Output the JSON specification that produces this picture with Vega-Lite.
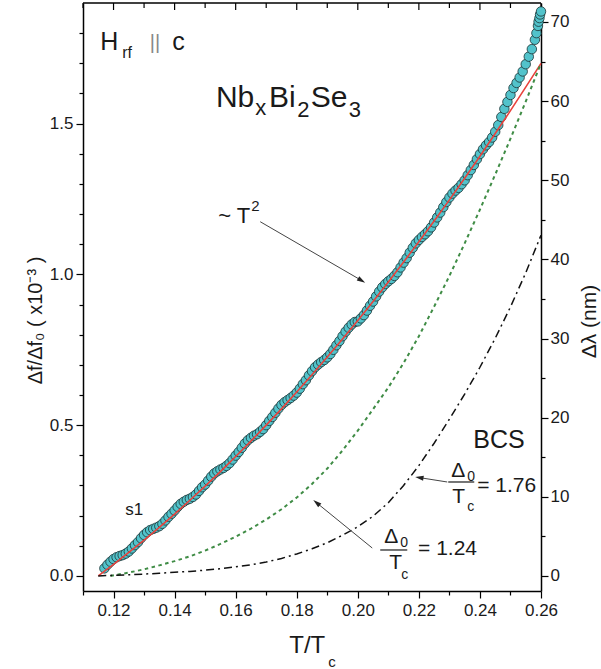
{
"$schema": "https://vega.github.io/schema/vega-lite/v6.json",
"width": 458, "height": 588,
"autosize": {"type": "none"},
"padding": {"left": 83, "top": 3, "right": 60, "bottom": 78},
"background": "white",
"config": {
 "view": {"stroke": null},
 "axis": {"domainColor": "#000", "tickColor": "#000", "labelColor": "#1a1a1a", "titleColor": "#1a1a1a", "labelFont": "Liberation Sans", "titleFont": "Liberation Sans", "labelFontSize": 17, "titleFontWeight": "normal", "grid": false, "domainWidth": 1.5, "tickWidth": 1.2, "labelOverlap": false, "labelFlush": false, "labelBound": false}
},
"datasets": {
 "pts": [
  {"T":0.117,"v":0.025},{"T":0.118,"v":0.037},{"T":0.119,"v":0.047},{"T":0.120,"v":0.056},{"T":0.121,"v":0.062},{"T":0.122,"v":0.066},{"T":0.123,"v":0.069},{"T":0.124,"v":0.074},{"T":0.125,"v":0.081},{"T":0.126,"v":0.091},
  {"T":0.127,"v":0.102},{"T":0.128,"v":0.112},{"T":0.129,"v":0.125},{"T":0.130,"v":0.136},{"T":0.131,"v":0.145},{"T":0.132,"v":0.152},{"T":0.133,"v":0.156},{"T":0.134,"v":0.160},{"T":0.135,"v":0.165},{"T":0.136,"v":0.173},
  {"T":0.137,"v":0.184},{"T":0.138,"v":0.196},{"T":0.139,"v":0.206},{"T":0.140,"v":0.217},{"T":0.141,"v":0.229},{"T":0.142,"v":0.239},{"T":0.143,"v":0.246},{"T":0.144,"v":0.252},{"T":0.145,"v":0.256},{"T":0.146,"v":0.262},
  {"T":0.147,"v":0.270},{"T":0.148,"v":0.282},{"T":0.149,"v":0.294},{"T":0.150,"v":0.303},{"T":0.151,"v":0.316},{"T":0.152,"v":0.329},{"T":0.153,"v":0.340},{"T":0.154,"v":0.347},{"T":0.155,"v":0.353},{"T":0.156,"v":0.358},
  {"T":0.157,"v":0.365},{"T":0.158,"v":0.374},{"T":0.159,"v":0.386},{"T":0.160,"v":0.399},{"T":0.161,"v":0.411},{"T":0.162,"v":0.425},{"T":0.163,"v":0.439},{"T":0.164,"v":0.450},{"T":0.165,"v":0.458},{"T":0.166,"v":0.465},
  {"T":0.167,"v":0.470},{"T":0.168,"v":0.478},{"T":0.169,"v":0.487},{"T":0.170,"v":0.500},{"T":0.171,"v":0.514},{"T":0.172,"v":0.527},{"T":0.173,"v":0.541},{"T":0.174,"v":0.555},{"T":0.175,"v":0.567},{"T":0.176,"v":0.576},
  {"T":0.177,"v":0.583},{"T":0.178,"v":0.590},{"T":0.179,"v":0.598},{"T":0.180,"v":0.608},{"T":0.181,"v":0.621},{"T":0.182,"v":0.636},{"T":0.183,"v":0.649},{"T":0.184,"v":0.665},{"T":0.185,"v":0.679},{"T":0.186,"v":0.692},
  {"T":0.187,"v":0.701},{"T":0.188,"v":0.709},{"T":0.189,"v":0.716},{"T":0.190,"v":0.725},{"T":0.191,"v":0.736},{"T":0.192,"v":0.750},{"T":0.193,"v":0.765},{"T":0.194,"v":0.779},{"T":0.195,"v":0.795},{"T":0.196,"v":0.810},
  {"T":0.197,"v":0.823},{"T":0.198,"v":0.834},{"T":0.199,"v":0.842},{"T":0.200,"v":0.844},{"T":0.201,"v":0.854},{"T":0.202,"v":0.865},{"T":0.203,"v":0.880},{"T":0.204,"v":0.896},{"T":0.205,"v":0.910},{"T":0.206,"v":0.927},
  {"T":0.207,"v":0.943},{"T":0.208,"v":0.957},{"T":0.209,"v":0.968},{"T":0.210,"v":0.977},{"T":0.211,"v":0.985},{"T":0.212,"v":0.995},{"T":0.213,"v":1.007},{"T":0.214,"v":1.023},{"T":0.215,"v":1.039},{"T":0.216,"v":1.054},
  {"T":0.217,"v":1.072},{"T":0.218,"v":1.088},{"T":0.219,"v":1.103},{"T":0.220,"v":1.114},{"T":0.221,"v":1.124},{"T":0.222,"v":1.133},{"T":0.223,"v":1.143},{"T":0.224,"v":1.156},{"T":0.225,"v":1.172},{"T":0.226,"v":1.189},
  {"T":0.227,"v":1.205},{"T":0.228,"v":1.223},{"T":0.229,"v":1.240},{"T":0.230,"v":1.255},{"T":0.231,"v":1.268},{"T":0.232,"v":1.278},{"T":0.233,"v":1.287},{"T":0.234,"v":1.299},{"T":0.235,"v":1.312},{"T":0.236,"v":1.329},
  {"T":0.237,"v":1.346},{"T":0.238,"v":1.363},{"T":0.239,"v":1.382},{"T":0.240,"v":1.399},{"T":0.241,"v":1.415},{"T":0.242,"v":1.428},{"T":0.243,"v":1.439},{"T":0.244,"v":1.454},{"T":0.245,"v":1.473},{"T":0.246,"v":1.495},
  {"T":0.247,"v":1.522},{"T":0.248,"v":1.549},{"T":0.249,"v":1.572},{"T":0.250,"v":1.595},{"T":0.251,"v":1.618},{"T":0.252,"v":1.635},{"T":0.253,"v":1.653},{"T":0.254,"v":1.673},{"T":0.255,"v":1.697},{"T":0.256,"v":1.722},
  {"T":0.257,"v":1.747},{"T":0.258,"v":1.778},{"T":0.2585,"v":1.800},{"T":0.259,"v":1.824},{"T":0.2592,"v":1.838},{"T":0.2595,"v":1.850},{"T":0.2597,"v":1.862},{"T":0.260,"v":1.872}
 ],
 "curves": [
  {"c":"fit","T":0.115,"v":0.0},{"c":"fit","T":0.12,"v":0.038},{"c":"fit","T":0.125,"v":0.078},{"c":"fit","T":0.13,"v":0.119},{"c":"fit","T":0.135,"v":0.161},{"c":"fit","T":0.14,"v":0.205},{"c":"fit","T":0.145,"v":0.251},{"c":"fit","T":0.15,"v":0.298},{"c":"fit","T":0.155,"v":0.346},{"c":"fit","T":0.16,"v":0.396},
  {"c":"fit","T":0.165,"v":0.447},{"c":"fit","T":0.17,"v":0.500},{"c":"fit","T":0.175,"v":0.554},{"c":"fit","T":0.18,"v":0.610},{"c":"fit","T":0.185,"v":0.667},{"c":"fit","T":0.19,"v":0.726},{"c":"fit","T":0.195,"v":0.786},{"c":"fit","T":0.2,"v":0.847},{"c":"fit","T":0.205,"v":0.910},{"c":"fit","T":0.21,"v":0.975},
  {"c":"fit","T":0.215,"v":1.041},{"c":"fit","T":0.22,"v":1.108},{"c":"fit","T":0.225,"v":1.177},{"c":"fit","T":0.23,"v":1.247},{"c":"fit","T":0.235,"v":1.319},{"c":"fit","T":0.24,"v":1.392},{"c":"fit","T":0.245,"v":1.467},{"c":"fit","T":0.25,"v":1.543},{"c":"fit","T":0.255,"v":1.621},{"c":"fit","T":0.26,"v":1.700},
  {"c":"g","T":0.119,"v":0.0},{"c":"g","T":0.125,"v":0.011},{"c":"g","T":0.13,"v":0.022},{"c":"g","T":0.135,"v":0.035},{"c":"g","T":0.14,"v":0.049},{"c":"g","T":0.145,"v":0.065},{"c":"g","T":0.15,"v":0.084},{"c":"g","T":0.155,"v":0.106},{"c":"g","T":0.16,"v":0.130},{"c":"g","T":0.165,"v":0.157},
  {"c":"g","T":0.17,"v":0.187},{"c":"g","T":0.175,"v":0.221},{"c":"g","T":0.18,"v":0.260},{"c":"g","T":0.185,"v":0.305},{"c":"g","T":0.19,"v":0.356},{"c":"g","T":0.195,"v":0.416},{"c":"g","T":0.2,"v":0.482},{"c":"g","T":0.205,"v":0.553},{"c":"g","T":0.21,"v":0.625},{"c":"g","T":0.215,"v":0.706},
  {"c":"g","T":0.22,"v":0.795},{"c":"g","T":0.225,"v":0.893},{"c":"g","T":0.23,"v":0.995},{"c":"g","T":0.235,"v":1.103},{"c":"g","T":0.24,"v":1.215},{"c":"g","T":0.245,"v":1.331},{"c":"g","T":0.25,"v":1.450},{"c":"g","T":0.255,"v":1.573},{"c":"g","T":0.26,"v":1.700},
  {"c":"b","T":0.115,"v":0.0},{"c":"b","T":0.12,"v":0.002},{"c":"b","T":0.125,"v":0.004},{"c":"b","T":0.13,"v":0.006},{"c":"b","T":0.135,"v":0.009},{"c":"b","T":0.14,"v":0.012},{"c":"b","T":0.145,"v":0.015},{"c":"b","T":0.15,"v":0.019},{"c":"b","T":0.155,"v":0.024},{"c":"b","T":0.16,"v":0.030},
  {"c":"b","T":0.165,"v":0.037},{"c":"b","T":0.17,"v":0.046},{"c":"b","T":0.175,"v":0.058},{"c":"b","T":0.18,"v":0.073},{"c":"b","T":0.185,"v":0.090},{"c":"b","T":0.19,"v":0.110},{"c":"b","T":0.195,"v":0.135},{"c":"b","T":0.2,"v":0.163},{"c":"b","T":0.205,"v":0.198},{"c":"b","T":0.21,"v":0.243},
  {"c":"b","T":0.215,"v":0.300},{"c":"b","T":0.22,"v":0.366},{"c":"b","T":0.225,"v":0.440},{"c":"b","T":0.23,"v":0.520},{"c":"b","T":0.235,"v":0.603},{"c":"b","T":0.24,"v":0.692},{"c":"b","T":0.245,"v":0.788},{"c":"b","T":0.25,"v":0.892},{"c":"b","T":0.255,"v":1.005},{"c":"b","T":0.26,"v":1.130}
 ],
 "arrows": [
  {"id":"a1","T":0.16804,"v":1.1747,"T2":0.20125,"v2":0.9797},
  {"id":"a2","T":0.22929,"v":0.3115,"T2":0.22015,"v2":0.3261},
  {"id":"a3","T":0.20473,"v":0.0926,"T2":0.18648,"v2":0.2428}
 ],
 "bars": [
  {"T":0.22962,"T2":0.23814,"v":0.3115},
  {"T":0.20735,"T2":0.21620,"v":0.0860}
 ],
 "frame": [
  {"T":0.11,"T2":0.26,"v":1.9}
 ],
 "topticks": [
  {"T":0.11,"v":1.9,"v2":1.8834},{"T":0.12,"v":1.9,"v2":1.8768},{"T":0.13,"v":1.9,"v2":1.8834},{"T":0.14,"v":1.9,"v2":1.8768},
  {"T":0.15,"v":1.9,"v2":1.8834},{"T":0.16,"v":1.9,"v2":1.8768},{"T":0.17,"v":1.9,"v2":1.8834},{"T":0.18,"v":1.9,"v2":1.8768},
  {"T":0.19,"v":1.9,"v2":1.8834},{"T":0.20,"v":1.9,"v2":1.8768},{"T":0.21,"v":1.9,"v2":1.8834},{"T":0.22,"v":1.9,"v2":1.8768},
  {"T":0.23,"v":1.9,"v2":1.8834},{"T":0.24,"v":1.9,"v2":1.8768},{"T":0.25,"v":1.9,"v2":1.8834},{"T":0.26,"v":1.9,"v2":1.8768}
 ],
 "texts": [
  {"g":"s30","label":"Nb","T":0.15353,"v":1.5551},
  {"g":"s30","label":"Bi","T":0.17092,"v":1.5551},
  {"g":"s30","label":"Se","T":0.18461,"v":1.5551},
  {"g":"s22","label":"x","T":0.16640,"v":1.5286},
  {"g":"s22","label":"2","T":0.18016,"v":1.5219},
  {"g":"s22","label":"3","T":0.19703,"v":1.5219},
  {"g":"s22","label":"~ T","T":0.15428,"v":1.1704},
  {"g":"s25","label":"H","T":0.11563,"v":1.7441},
  {"g":"s25","label":"c","T":0.13922,"v":1.7441},
  {"g":"s25","label":"BCS","T":0.23781,"v":0.4242},
  {"g":"s16","label":"rf","T":0.12284,"v":1.7176},
  {"g":"par","label":"||","T":0.13185,"v":1.7475},
  {"g":"s15","label":"2","T":0.16509,"v":1.2102},
  {"g":"s15","label":"c","T":0.19031,"v":-0.302},
  {"g":"s17","label":"s1","T":0.12382,"v":0.2020},
  {"g":"s21","label":"Δ","T":0.23060,"v":0.3281},
  {"g":"s21","label":"T","T":0.23093,"v":0.2418},
  {"g":"s21","label":"= 1.76","T":0.23912,"v":0.2783},
  {"g":"s21","label":"Δ","T":0.20866,"v":0.1092},
  {"g":"s21","label":"T","T":0.21030,"v":0.0230},
  {"g":"s21","label":"= 1.24","T":0.21973,"v":0.0694},
  {"g":"s14","label":"0","T":0.23584,"v":0.3148},
  {"g":"s14","label":"c","T":0.23584,"v":0.2153},
  {"g":"s14","label":"0","T":0.21390,"v":0.0959},
  {"g":"s14","label":"c","T":0.21420,"v":-0.0102},
  {"g":"s24","label":"T/T","T":0.17754,"v":-0.2556}
 ]
},
"layer": [
 {
  "encoding": {
   "x": {"field": "T", "type": "quantitative",
    "scale": {"domain": [0.11, 0.26], "nice": false, "zero": false},
    "axis": {"orient": "bottom", "title": null,
     "values": [0.11,0.12,0.13,0.14,0.15,0.16,0.17,0.18,0.19,0.2,0.21,0.22,0.23,0.24,0.25,0.26],
     "labelExpr": "abs(datum.value*50 - round(datum.value*50)) < 0.001 ? format(datum.value, '.2f') : ''",
     "tickSize": {"condition": {"test": "abs(datum.value*50 - round(datum.value*50)) < 0.001", "value": 7}, "value": 4},
     "labelPadding": 4}},
   "y": {"field": "v", "type": "quantitative",
    "scale": {"domain": [-0.05, 1.9], "nice": false, "zero": false},
    "axis": {"orient": "left", "title": "Δf/Δf₀ ( x10⁻³ )",
     "values": [0,0.1,0.2,0.3,0.4,0.5,0.6,0.7,0.8,0.9,1.0,1.1,1.2,1.3,1.4,1.5,1.6,1.7,1.8],
     "labelExpr": "abs(datum.value*2 - round(datum.value*2)) < 0.001 ? format(datum.value, '.1f') : ''",
     "tickSize": {"condition": {"test": "abs(datum.value*2 - round(datum.value*2)) < 0.001", "value": 7}, "value": 4},
     "labelPadding": 3,
     "titleFontSize": 20, "titleAngle": 270, "titleX": -42, "titleY": 317, "titleBaseline": "alphabetic", "titleAlign": "center"}}
  },
  "layer": [
   {"data": {"name": "frame"}, "mark": {"type": "rule", "color": "#000000", "strokeWidth": 1.5}, "encoding": {"x2": {"field": "T2"}}},
   {"data": {"name": "topticks"}, "mark": {"type": "rule", "color": "#000000", "strokeWidth": 1.2}, "encoding": {"y2": {"field": "v2"}}},
   {"data": {"name": "pts"}, "mark": {"type": "circle", "size": 90, "fill": "#52c3cb", "fillOpacity": 1, "opacity": 1, "stroke": "#1b3234", "strokeWidth": 0.8}},
   {"data": {"name": "curves"}, "transform": [{"filter": "datum.c === 'fit'"}], "mark": {"type": "line", "color": "#e8423c", "strokeWidth": 1.6}},
   {"data": {"name": "curves"}, "transform": [{"filter": "datum.c === 'g'"}], "mark": {"type": "line", "color": "#3f8c45", "strokeWidth": 2, "strokeDash": [3.5, 3.5]}},
   {"data": {"name": "curves"}, "transform": [{"filter": "datum.c === 'b'"}], "mark": {"type": "line", "color": "#111111", "strokeWidth": 1.5, "strokeDash": [8, 4, 2, 4]}},
   {"data": {"name": "arrows"}, "mark": {"type": "rule", "color": "#444444", "strokeWidth": 1}, "encoding": {"x2": {"field": "T2"}, "y2": {"field": "v2"}}},
   {"data": {"name": "arrows"}, "transform": [{"filter": "datum.id === 'a1'"}], "mark": {"type": "point", "shape": "M0,-1L0.6,1L-0.6,1Z", "filled": true, "color": "#222222", "opacity": 1, "size": 70, "angle": 120.8}, "encoding": {"x": {"field": "T2", "type": "quantitative"}, "y": {"field": "v2", "type": "quantitative"}}},
   {"data": {"name": "arrows"}, "transform": [{"filter": "datum.id === 'a2'"}], "mark": {"type": "point", "shape": "M0,-1L0.6,1L-0.6,1Z", "filled": true, "color": "#222222", "opacity": 1, "size": 70, "angle": 278.9}, "encoding": {"x": {"field": "T2", "type": "quantitative"}, "y": {"field": "v2", "type": "quantitative"}}},
   {"data": {"name": "arrows"}, "transform": [{"filter": "datum.id === 'a3'"}], "mark": {"type": "point", "shape": "M0,-1L0.6,1L-0.6,1Z", "filled": true, "color": "#222222", "opacity": 1, "size": 70, "angle": 309.1}, "encoding": {"x": {"field": "T2", "type": "quantitative"}, "y": {"field": "v2", "type": "quantitative"}}},
   {"data": {"name": "bars"}, "mark": {"type": "rule", "color": "#1a1a1a", "strokeWidth": 1.2}, "encoding": {"x2": {"field": "T2"}}},
   {"data": {"name": "texts"}, "transform": [{"filter": "datum.g === 's30'"}], "mark": {"type": "text", "align": "left", "baseline": "alphabetic", "font": "Liberation Sans", "fontSize": 30, "color": "#1a1a1a"}, "encoding": {"text": {"field": "label"}}},
   {"data": {"name": "texts"}, "transform": [{"filter": "datum.g === 's25'"}], "mark": {"type": "text", "align": "left", "baseline": "alphabetic", "font": "Liberation Sans", "fontSize": 25, "color": "#1a1a1a"}, "encoding": {"text": {"field": "label"}}},
   {"data": {"name": "texts"}, "transform": [{"filter": "datum.g === 's24'"}], "mark": {"type": "text", "align": "left", "baseline": "alphabetic", "font": "Liberation Sans", "fontSize": 24, "color": "#1a1a1a"}, "encoding": {"text": {"field": "label"}}},
   {"data": {"name": "texts"}, "transform": [{"filter": "datum.g === 's22'"}], "mark": {"type": "text", "align": "left", "baseline": "alphabetic", "font": "Liberation Sans", "fontSize": 22, "color": "#1a1a1a"}, "encoding": {"text": {"field": "label"}}},
   {"data": {"name": "texts"}, "transform": [{"filter": "datum.g === 's21'"}], "mark": {"type": "text", "align": "left", "baseline": "alphabetic", "font": "Liberation Sans", "fontSize": 21, "color": "#1a1a1a"}, "encoding": {"text": {"field": "label"}}},
   {"data": {"name": "texts"}, "transform": [{"filter": "datum.g === 's17'"}], "mark": {"type": "text", "align": "left", "baseline": "alphabetic", "font": "Liberation Sans", "fontSize": 17, "color": "#1a1a1a"}, "encoding": {"text": {"field": "label"}}},
   {"data": {"name": "texts"}, "transform": [{"filter": "datum.g === 's16'"}], "mark": {"type": "text", "align": "left", "baseline": "alphabetic", "font": "Liberation Sans", "fontSize": 16, "color": "#1a1a1a"}, "encoding": {"text": {"field": "label"}}},
   {"data": {"name": "texts"}, "transform": [{"filter": "datum.g === 's15'"}], "mark": {"type": "text", "align": "left", "baseline": "alphabetic", "font": "Liberation Sans", "fontSize": 15, "color": "#1a1a1a"}, "encoding": {"text": {"field": "label"}}},
   {"data": {"name": "texts"}, "transform": [{"filter": "datum.g === 's14'"}], "mark": {"type": "text", "align": "left", "baseline": "alphabetic", "font": "Liberation Sans", "fontSize": 14, "color": "#1a1a1a"}, "encoding": {"text": {"field": "label"}}},
   {"data": {"name": "texts"}, "transform": [{"filter": "datum.g === 'par'"}], "mark": {"type": "text", "align": "left", "baseline": "alphabetic", "font": "Liberation Sans", "fontSize": 20, "color": "#888888"}, "encoding": {"text": {"field": "label"}}}
  ]
 },
 {
  "data": {"values": [{"T": 0.2, "dl": 30}]},
  "mark": {"type": "point", "opacity": 0},
  "encoding": {
   "x": {"field": "T", "type": "quantitative",
    "scale": {"domain": [0.11, 0.26], "nice": false, "zero": false},
    "axis": null},
   "y": {"field": "dl", "type": "quantitative",
    "scale": {"domain": [-1.9, 72.4], "nice": false, "zero": false},
    "axis": {"orient": "right", "title": "Δλ (nm)",
     "values": [0,5,10,15,20,25,30,35,40,45,50,55,60,65,70],
     "labelExpr": "datum.value % 10 === 0 ? datum.label : ''",
     "tickSize": {"condition": {"test": "datum.value % 10 === 0", "value": 7}, "value": 4},
     "labelPadding": 2,
     "titleFontSize": 21, "titleAngle": 270, "titleX": 54, "titleY": 318, "titleBaseline": "alphabetic", "titleAlign": "center"}}
  }
 }
],
"resolve": {"scale": {"x": "independent", "y": "independent"}, "axis": {"x": "independent", "y": "independent"}}
}
